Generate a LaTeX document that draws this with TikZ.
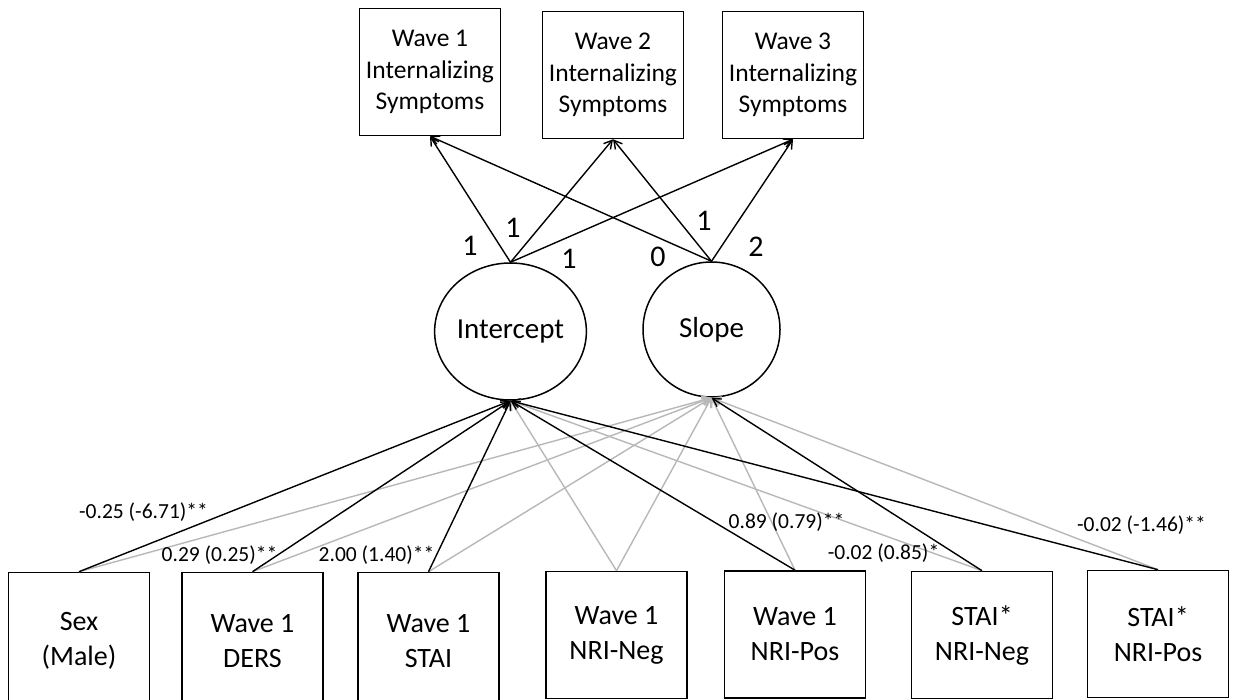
\documentclass[tikz,border=0pt]{standalone}
\usepackage{fontspec}
\setmainfont{Carlito}
\usetikzlibrary{shapes.geometric,arrows.meta}
\definecolor{lightgr}{HTML}{B8B8B8}
\tikzset{
  topbox/.style={draw, line width=1.6pt, minimum width=141pt, minimum height=127pt, inner sep=0pt, align=center, font=\fontsize{25.5}{31.5}\selectfont},
  botbox/.style={draw, line width=1.6pt, minimum width=141pt, minimum height=127pt, inner sep=0pt, align=center, font=\fontsize{28}{35}\selectfont},
  tallbox/.style={botbox, minimum height=137pt},
  latent/.style={draw, ellipse, line width=1.5pt, inner sep=0pt, font=\fontsize{29}{34}\selectfont},
  blk/.style={draw=black, line width=1.4pt, -{Straight Barb[length=8pt,width=9pt,line width=1.4pt]}},
  gry/.style={draw=lightgr, line width=1.4pt, -{Straight Barb[length=8pt,width=9pt,line width=1.4pt]}},
  coef/.style={inner sep=0pt, font=\fontsize{21.5}{24}\selectfont},
  load/.style={inner sep=0pt, font=\fontsize{30}{34}\selectfont}
}
\begin{document}
\begin{tikzpicture}[x=1pt,y=-1pt]
\useasboundingbox (0,0) rectangle (1233,700);
\clip (0,0) rectangle (1233,700);
\fill[white] (0,0) rectangle (1233,700);
% top indicators
\node[topbox] (w1) at (430,72) {Wave 1\\Internalizing\\Symptoms};
\node[topbox] (w2) at (613,75) {Wave 2\\Internalizing\\Symptoms};
\node[topbox] (w3) at (793,75) {Wave 3\\Internalizing\\Symptoms};
% latent factors
\node[latent, minimum width=147pt, minimum height=137pt] (int) at (510.5,331.5) {Intercept};
\node[latent, minimum width=137pt, minimum height=135pt] (slp) at (711.5,329.5) {Slope};
% predictors
\node[tallbox] (sex) at (79,641) {Sex\\(Male)};
\node[tallbox] (ders) at (252.5,641) {Wave 1\\DERS};
\node[tallbox] (stai) at (428.5,641) {Wave 1\\STAI};
\node[botbox] (nneg) at (616.5,635) {Wave 1\\NRI-Neg};
\node[botbox] (npos) at (795,634.5) {Wave 1\\NRI-Pos};
\node[botbox] (sneg) at (982,635) {STAI*\\NRI-Neg};
\node[botbox] (spos) at (1158,634) {STAI*\\NRI-Pos};
% gray (non-significant) paths
\draw[gry] (sex.north) -- (slp.south);
\draw[gry] (ders.north) -- (slp.south);
\draw[gry] (stai.north) -- (slp.south);
\draw[gry] (nneg.north) -- (int.south);
\draw[gry] (nneg.north) -- (slp.south);
\draw[gry] (npos.north) -- (slp.south);
\draw[gry] (sneg.north) -- (int.south);
\draw[gry] (spos.north) -- (slp.south);
% black (significant) paths
\draw[blk] (sex.north) -- (int.south);
\draw[blk] (ders.north) -- (int.south);
\draw[blk] (stai.north) -- (int.south);
\draw[blk] (npos.north) -- (int.south);
\draw[blk] (sneg.north) -- (slp.south);
\draw[blk] (spos.north) -- (int.south);
% loadings
\draw[blk] (int.north) -- (w1.south);
\draw[blk] (int.north) -- (w2.south);
\draw[blk] (int.north) -- (w3.south);
\draw[blk] (slp.north) -- (w1.south);
\draw[blk] (slp.north) -- (w2.south);
\draw[blk] (slp.north) -- (w3.south);
% loading labels
\node[load] (l1) at (470,246) {1};
\node[load] (l2) at (513,228) {1};
\node[load] (l3) at (569,259) {1};
\node[load] (l4) at (658,257) {0};
\node[load] (l5) at (704,221) {1};
\node[load] (l6) at (756,247) {2};
% coefficient labels
\node[coef] (c1) at (143.5,512) {-0.25 (-6.71)**};
\node[coef] (c2) at (219.5,555) {0.29 (0.25)**};
\node[coef] (c3) at (376.5,555) {2.00 (1.40)**};
\node[coef] (c4) at (786.5,522) {0.89 (0.79)**};
\node[coef] (c5) at (883.5,553) {-0.02 (0.85)*};
\node[coef] (c6) at (1141.5,525) {-0.02 (-1.46)**};
\end{tikzpicture}
\end{document}
